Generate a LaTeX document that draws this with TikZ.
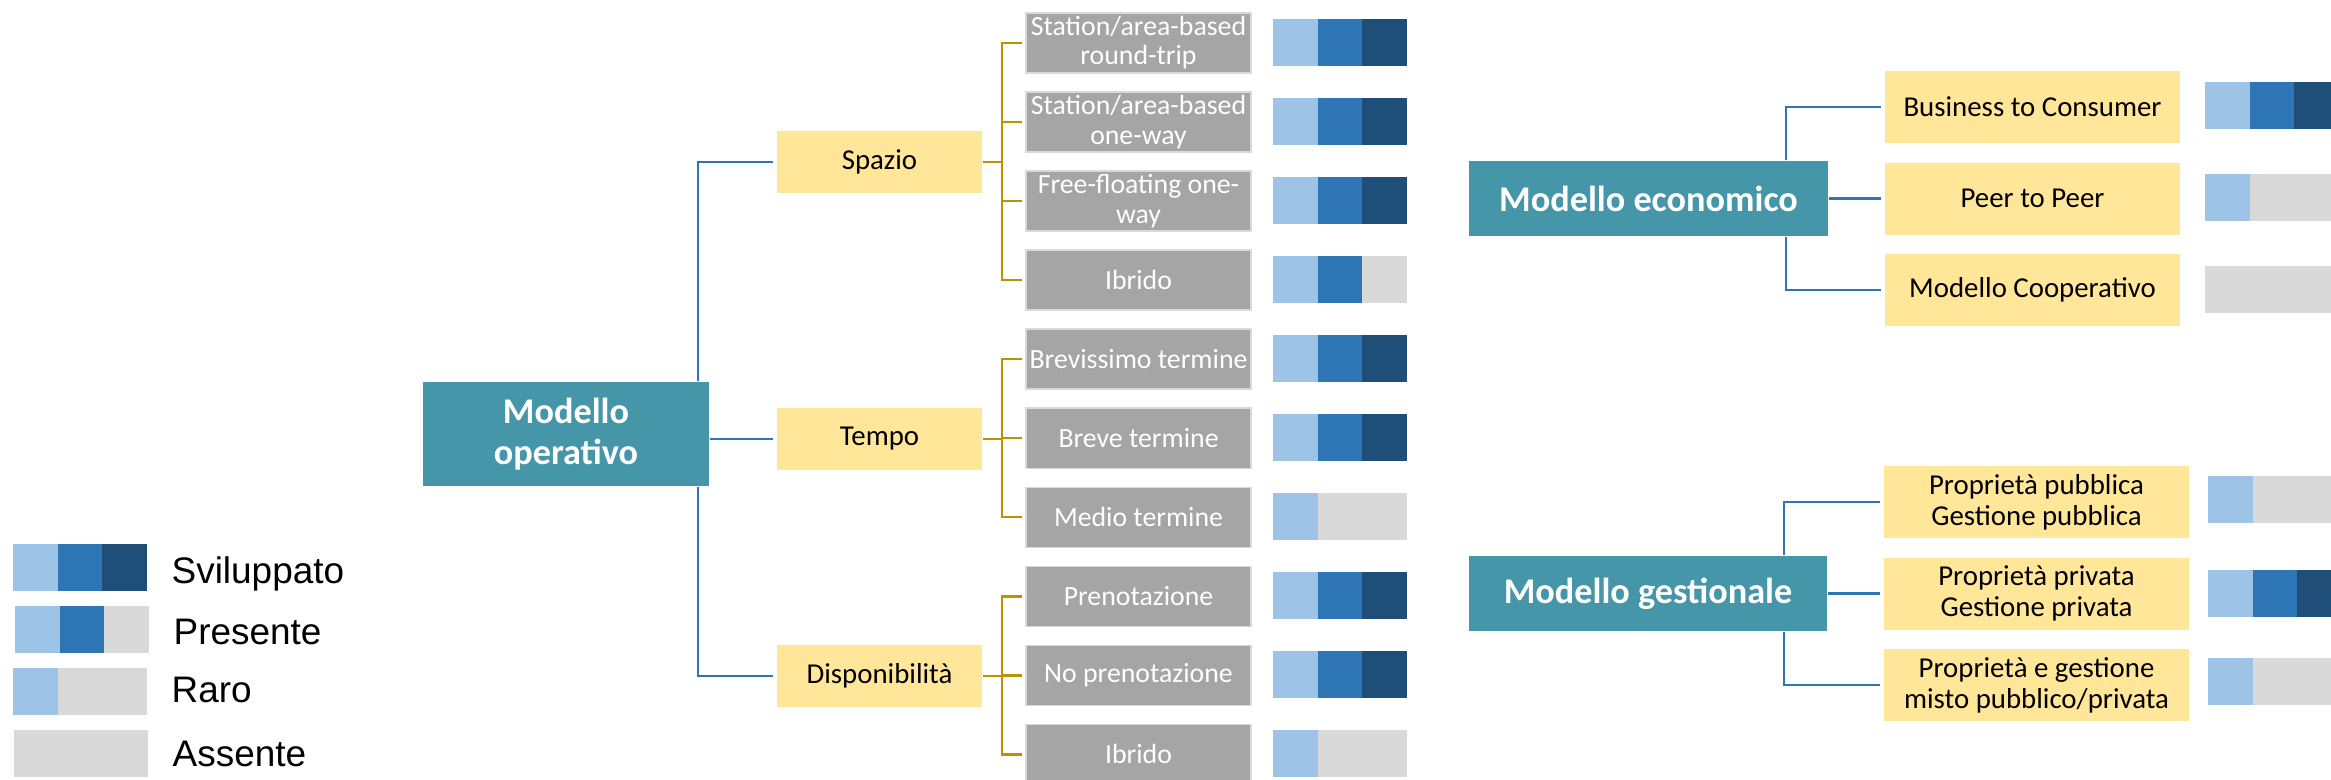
\documentclass[tikz,border=0pt]{standalone}
\usepackage{fontspec}
\setmainfont{Carlito}
\newfontfamily\legendfont{Liberation Sans}
\usepackage{tikz}
\usetikzlibrary{positioning}
\usepackage{xcolor}

\definecolor{tealbox}{RGB}{68,150,168}
\definecolor{sandbox}{RGB}{255,230,153}
\definecolor{optgray}{RGB}{165,165,165}
\definecolor{treeblue}{RGB}{46,117,182}
\definecolor{treegold}{RGB}{191,144,0}
\definecolor{lvlone}{RGB}{157,195,230}
\definecolor{lvltwo}{RGB}{46,117,182}
\definecolor{lvlthree}{RGB}{31,78,121}
\definecolor{lvlnone}{RGB}{217,217,217}

% bar of three cells: x, y (row centre), level 0..3
\newcommand{\levelbar}[3]{%
  \fill[lvlnone] (#1,#2-23.5) rectangle ++(134,47);
  \ifnum#3>0 \fill[lvlone] (#1,#2-23.5) rectangle ++(44.7,47);\fi
  \ifnum#3>1 \fill[lvltwo] (#1+44.7,#2-23.5) rectangle ++(44.7,47);\fi
  \ifnum#3>2 \fill[lvlthree] (#1+89.4,#2-23.5) rectangle ++(44.6,47);\fi
}

\begin{document}
\begin{tikzpicture}[x=0.01cm,y=-0.01cm,node distance=0.79cm]
  \tikzstyle{topbox}=[fill=tealbox,text=white,align=center,inner sep=0pt,
    font=\bfseries\fontsize{10.3}{11.8}\selectfont]
  \tikzstyle{subbox}=[fill=sandbox,inner sep=0pt,minimum width=2.05cm,
    minimum height=0.61cm,font=\fontsize{8.2}{9.5}\selectfont]
  \tikzstyle{optbox}=[fill=optgray,draw=lvlnone,line width=0.4pt,text=white,
    align=center,inner sep=0pt,minimum width=2.25cm,minimum height=0.60cm,
    font=\fontsize{7.9}{8.3}\selectfont]
  \tikzstyle{ownbox}=[fill=sandbox,align=center,inner sep=0pt,node distance=0.915cm,
    minimum width=2.95cm,minimum height=0.72cm,font=\fontsize{8.2}{8.8}\selectfont]
  \tikzstyle{legendtext}=[anchor=base west,inner sep=0pt,
    font=\legendfont\fontsize{10.5}{12.6}\selectfont]
  \tikzstyle{opline}=[draw=treeblue,line width=0.65pt,shorten >=1pt]
  \tikzstyle{optline}=[draw=treegold,line width=0.7pt,shorten >=1pt]
  \tikzstyle{elbow}=[to path={|- (\tikztotarget)}]
  \tikzstyle{fork}=[to path={(\tikztostart.east) -| ([xshift=-0.23cm]\tikztotarget.west) -- (\tikztotarget)}]

  \useasboundingbox (0,0) rectangle (2331,780);
  \clip (0,0) rectangle (2331,780);

  % left tree
  \node[topbox,minimum width=2.86cm,minimum height=1.04cm] (op) at (566,434) {Modello\\operativo};
  \node[subbox] (spazio) at (879.5,162) {Spazio};
  \node[subbox] (tempo)  at (879.5,439) {Tempo};
  \node[subbox] (disp)   at (879.5,676) {Disponibilità};

  \node[optbox] (s1) at (1138.5,43) {Station/area-based\\round-trip};
  \node[optbox] (s2) [below of=s1] {Station/area-based\\one-way};
  \node[optbox] (s3) [below of=s2] {Free-floating one-\\way};
  \node[optbox] (s4) [below of=s3] {Ibrido};
  \node[optbox] (t1) [below of=s4] {Brevissimo termine};
  \node[optbox] (t2) [below of=t1] {Breve termine};
  \node[optbox] (t3) [below of=t2] {Medio termine};
  \node[optbox] (d1) [below of=t3] {Prenotazione};
  \node[optbox] (d2) [below of=d1] {No prenotazione};
  \node[optbox] (d3) [below of=d2] {Ibrido};

  \coordinate (op_n) at ([xshift=-0.12cm]op.north east);
  \coordinate (op_s) at ([xshift=-0.12cm]op.south east);

  \path[opline]
  (op_n)           edge[elbow] (spazio)
  (op.east |- tempo) edge      (tempo)
  (op_s)           edge[elbow] (disp)
  ;

  \path[optline]
  (spazio) edge[fork] (s1)
  (spazio) edge[fork] (s2)
  (spazio) edge[fork] (s3)
  (spazio) edge[fork] (s4)
  (tempo)  edge[fork] (t1)
  (tempo)  edge[fork] (t2)
  (tempo)  edge[fork] (t3)
  (disp)   edge[fork] (d1)
  (disp)   edge[fork] (d2)
  (disp)   edge[fork] (d3)
  ;

  \levelbar{1273}{43}{3}
  \levelbar{1273}{122}{3}
  \levelbar{1273}{201}{3}
  \levelbar{1273}{280}{2}
  \levelbar{1273}{359}{3}
  \levelbar{1273}{438}{3}
  \levelbar{1273}{517}{1}
  \levelbar{1273}{596}{3}
  \levelbar{1273}{675}{3}
  \levelbar{1273}{754}{1}

  % right trees
  \node[topbox,minimum width=3.59cm,minimum height=0.75cm] (eco) at (1648.5,198.5) {Modello economico};
  \node[ownbox] (b2c)  at (2032.5,107) {Business to Consumer};
  \node[ownbox] (p2p)  [below of=b2c] {Peer to Peer};
  \node[ownbox] (coop) [below of=p2p] {Modello Cooperativo};

  \node[topbox,minimum width=3.58cm,minimum height=0.75cm] (ges) at (1648,593.5) {Modello gestionale};
  \node[ownbox,minimum width=3.05cm] (pub)  at (2036.5,502) {Proprietà pubblica\\Gestione pubblica};
  \node[ownbox,minimum width=3.05cm] (priv) [below of=pub] {Proprietà privata\\Gestione privata};
  \node[ownbox,minimum width=3.05cm] (mix)  [below of=priv] {Proprietà e gestione\\misto pubblico/privata};

  \coordinate (eco_n) at ([xshift=-0.43cm]eco.north east);
  \coordinate (eco_s) at ([xshift=-0.43cm]eco.south east);
  \coordinate (ges_n) at ([xshift=-0.44cm]ges.north east);
  \coordinate (ges_s) at ([xshift=-0.44cm]ges.south east);

  \path[opline]
  (eco_n)            edge[elbow] (b2c)
  (eco.east |- p2p)  edge        (p2p)
  (eco_s)            edge[elbow] (coop)
  (ges_n)            edge[elbow] (pub)
  (ges.east |- priv) edge        (priv)
  (ges_s)            edge[elbow] (mix)
  ;

  \levelbar{2205}{106}{3}
  \levelbar{2205}{198}{1}
  \levelbar{2205}{290}{0}
  \levelbar{2208}{500}{1}
  \levelbar{2208}{594}{3}
  \levelbar{2208}{682}{1}

  % legend
  \levelbar{13}{567.5}{3}
  \levelbar{15}{629.5}{2}
  \levelbar{13}{691.5}{1}
  \levelbar{14}{754}{0}
  \node[legendtext] (lg_s) at (171,584) {Sviluppato};
  \node[legendtext] (lg_p) at (173,645) {Presente};
  \node[legendtext] (lg_r) at (171,703) {Raro};
  \node[legendtext] (lg_a) at (172,767) {Assente};
\end{tikzpicture}
\end{document}
